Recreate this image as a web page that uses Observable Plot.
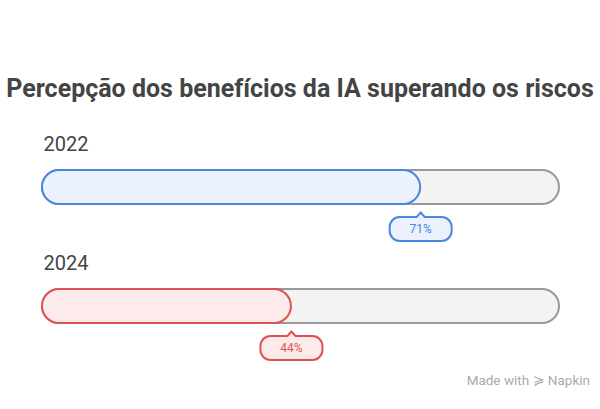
<!DOCTYPE html>
<html>
<head>
<meta charset="utf-8">
<script src="https://cdn.jsdelivr.net/npm/d3@7"></script>
<script src="https://cdn.jsdelivr.net/npm/@observablehq/plot@0.6"></script>
<style>
  html, body { margin: 0; padding: 0; background: #fff; }
  body { width: 600px; height: 409px; position: relative; overflow: hidden; font-family: Roboto, "Noto Sans", sans-serif; }
  #title { position: absolute; left: 0; width: 600px; top: 74px; text-align: center; font-weight: 700; font-size: 25px; color: #444; white-space: nowrap; }
  #chart { position: absolute; left: 0; top: 120px; }
  #footer { position: absolute; right: 10px; top: 372px; font-size: 13.5px; color: #aaa; }
</style>
</head>
<body>
<div id="title">Percepção dos benefícios da IA superando os riscos</div>
<div id="chart"></div>
<div id="footer">Made with <span>≽</span> Napkin</div>
<script>
const years = ["2022", "2024"];
const values = [71, 44];
const labels = ["71%", "44%"];
const strokes = ["#4a86e0", "#e05252"];
const fills = ["#ebf2fe", "#fdebeb"];
const trackStart = -8;
const trackEnd = 100;

const data = years.map((y, i) => ({year: y, value: values[i], label: labels[i], stroke: strokes[i], fill: fills[i]}));

const callout = {
  draw(ctx) {
    const w = 31, top = 4.5, bot = 28.5, r = 10, pw = 4;
    ctx.moveTo(0, 0);
    ctx.lineTo(pw, top);
    ctx.lineTo(w - r, top);
    ctx.arcTo(w, top, w, top + r, r);
    ctx.lineTo(w, bot - r);
    ctx.arcTo(w, bot, w - r, bot, r);
    ctx.lineTo(-w + r, bot);
    ctx.arcTo(-w, bot, -w, bot - r, r);
    ctx.lineTo(-w, top + r);
    ctx.arcTo(-w, top, -w + r, top, r);
    ctx.lineTo(-pw, top);
    ctx.closePath();
  }
};

const plot = Plot.plot({
  width: 600,
  height: 260,
  marginLeft: 42,
  marginRight: 41,
  marginTop: 0,
  marginBottom: 0,
  style: {fontFamily: "Roboto, 'Noto Sans', sans-serif", background: "transparent"},
  x: {domain: [trackStart, trackEnd], range: [42, 559], axis: null},
  y: {domain: years, range: [50, 204], paddingInner: 0.714, paddingOuter: 0, axis: null, type: "band"},
  marks: [
    Plot.barX(data, {x1: () => trackStart, x2: () => trackEnd, y: "year", fill: "#f3f3f3", stroke: "#999", strokeWidth: 2, rx: 17}),
    Plot.barX(data, {x1: () => trackStart, x2: "value", y: "year", fill: d => d.fill, stroke: d => d.stroke, strokeWidth: 2, rx: 17}),
    Plot.dot(data, {x: "value", y: "year", dy: 25, symbol: callout, r: 1, fill: d => d.fill, stroke: d => d.stroke, strokeWidth: 2}),
    Plot.text(data, {x: "value", y: "year", dy: 42, text: "label", fill: d => d.stroke, fontSize: 12}),
    Plot.text(data, {x: () => trackStart, y: "year", dx: 1, dy: -51, text: "year", textAnchor: "start", lineAnchor: "top", fill: "#444", fontSize: 20})
  ]
});
document.getElementById("chart").appendChild(plot);
</script>
</body>
</html>
